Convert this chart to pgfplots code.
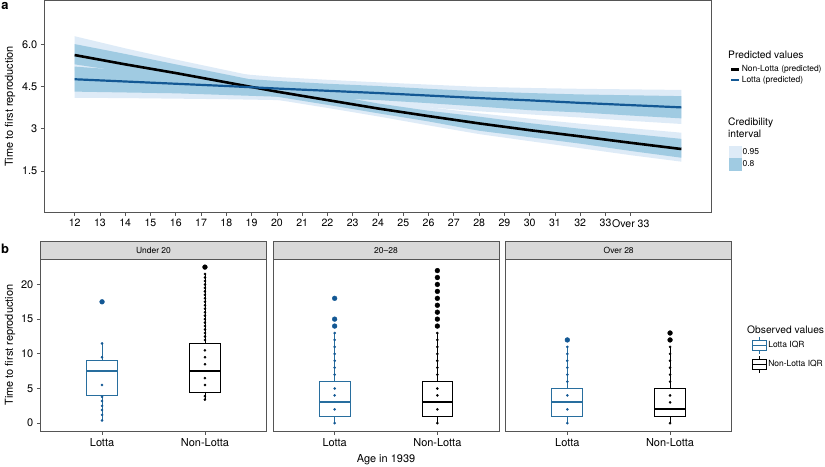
\documentclass[border=0pt]{standalone}
\usepackage{pgfplots}
\pgfplotsset{compat=1.18}
\usepgfplotslibrary{statistics}
\usepackage{fontspec}
\setmainfont{TeX Gyre Heros}

\definecolor{lottaline}{RGB}{19,88,148}
\definecolor{lottabox}{RGB}{40,110,158}
\definecolor{ciA}{RGB}{222,235,247}
\definecolor{ciB}{RGB}{160,203,226}
\definecolor{stripgray}{RGB}{217,217,217}
\definecolor{frame}{RGB}{85,85,85}

\newcommand\fbig{\fontsize{11}{13}\selectfont}
\newcommand\ftick{\fontsize{10.6}{12.5}\selectfont}
\newcommand\ftitle{\fontsize{10.3}{12.5}\selectfont}
\newcommand\fsmall{\fontsize{8.5}{10}\selectfont}

\pgfplotsset{
  gg/.style={
    scale only axis,
    anchor=south west,
    axis line style={frame, line width=0.7bp},
    tick align=outside,
    major tick length=3.5bp,
    tick style={frame, line width=0.7bp},
    tick pos=left,
    tick label style={font=\fbig, black},
    label style={font=\fbig},
    /pgf/number format/assume math mode=true,
    clip=false,
    legend cell align=left,
  },
  boxlegend/.style={legend image code/.code={
    \draw[#1, line width=0.9bp] (7bp,-8.5bp) -- (7bp,8.5bp);
    \draw[#1, line width=0.9bp, fill=white] (0bp,-5bp) rectangle (14bp,5bp);
    \draw[#1, line width=0.9bp] (0bp,0bp) -- (14bp,0bp);}},
  linelegend/.style={legend image code/.code={
    \draw[#1] (0bp,0bp) -- (8bp,0bp);}},
  swatch/.style={legend image code/.code={
    \fill[#1] (0bp,-5.75bp) rectangle (12bp,5.75bp);}},
  nldot/.style={only marks, mark=*, mark size=1.1bp, black},
  ldot/.style={only marks, mark=*, mark size=1.1bp, lottaline},
  nlout/.style={only marks, mark=*, mark size=2.4bp, black},
  lout/.style={only marks, mark=*, mark size=2.4bp, lottaline},
  bxbase/.style={line width=0.9bp, boxplot/draw direction=y, boxplot/box extend=0.3,
    boxplot/whisker extend=0, boxplot/every median/.style={line width=1.8bp}},
  lbox/.style={lottabox, bxbase},
  nlbox/.style={black, bxbase},
}

\begin{document}
\begin{tikzpicture}
\useasboundingbox (0,0) rectangle (825bp,467bp);

% ---------- panel a ----------
\begin{axis}[gg, name=top, at={(44.3bp,254.7bp)},
  width=667.4bp, height=211.8bp,
  xmin=10.8, xmax=37.2, ymin=0.03, ymax=7.56,
  xtick={12,...,34},
  xticklabels={12,13,14,15,16,17,18,19,20,21,22,23,24,25,26,27,28,29,30,31,32,33,Over 33},
  xticklabel style={font=\ftick},
  ytick={1.5,3,4.5,6}, yticklabels={1.5,3,4.5,6.0},
  ylabel={Time to first reproduction},
  ylabel style={at={(axis description cs:-0.0514,0.5)}, anchor=center},
  legend style={at={(1.0267,0.701)}, anchor=north west, draw=none, fill=none,
    font=\fsmall, inner sep=0pt, nodes={inner sep=1.5bp}},
]
% 0.95 bands
\addplot[draw=none, fill=ciA, forget plot] coordinates {
  (12,6.29) (14,5.86) (16,5.46) (18,5.08) (20,4.70) (22,4.33) (24,4.02)
  (26,3.77) (28,3.55) (30,3.36) (32,3.18) (34,3.02) (36,2.86)
  (36,1.83) (34,2.06) (32,2.31) (30,2.56) (28,2.81) (26,3.12) (24,3.44)
  (22,3.74) (20,4.03) (18,4.30) (16,4.58) (14,4.85) (12,5.07)} --cycle;
\addplot[draw=none, fill=ciA, forget plot] coordinates {
  (12,5.46) (14,5.30) (16,5.15) (18,4.99) (20,4.84) (22,4.74) (24,4.65)
  (26,4.57) (28,4.49) (30,4.45) (32,4.42) (34,4.40) (36,4.38)
  (36,3.17) (34,3.28) (32,3.40) (30,3.51) (28,3.62) (26,3.76) (24,3.88)
  (22,3.95) (20,4.02) (18,4.05) (16,4.07) (14,4.09) (12,4.10)} --cycle;
% 0.8 bands
\addplot[draw=none, fill=ciB, forget plot] coordinates {
  (12,6.01) (14,5.66) (16,5.29) (18,4.93) (20,4.56) (22,4.22) (24,3.90)
  (26,3.64) (28,3.43) (30,3.20) (32,3.00) (34,2.82) (36,2.64)
  (36,1.97) (34,2.21) (32,2.47) (30,2.70) (28,2.93) (26,3.26) (24,3.55)
  (22,3.85) (20,4.14) (18,4.45) (16,4.73) (14,5.02) (12,5.29)} --cycle;
\addplot[draw=none, fill=ciB, forget plot] coordinates {
  (12,5.21) (14,5.08) (16,4.95) (18,4.82) (20,4.70) (22,4.60) (24,4.52)
  (26,4.42) (28,4.33) (30,4.27) (32,4.22) (34,4.19) (36,4.16)
  (36,3.37) (34,3.47) (32,3.58) (30,3.66) (28,3.79) (26,3.91) (24,4.02)
  (22,4.08) (20,4.14) (18,4.20) (16,4.26) (14,4.29) (12,4.32)} --cycle;
% predicted lines
\addplot[black, line width=2.6bp, forget plot] coordinates {
  (12,5.62) (14,5.29) (16,4.98) (18,4.65) (20,4.32) (22,4.02) (24,3.72)
  (26,3.45) (28,3.19) (30,2.95) (32,2.73) (34,2.50) (36,2.28)};
\addplot[lottaline, line width=2.2bp, forget plot] coordinates {
  (12,4.76) (14,4.68) (16,4.60) (18,4.52) (20,4.43) (22,4.35) (24,4.27)
  (26,4.18) (28,4.09) (30,4.01) (32,3.92) (34,3.84) (36,3.76)};
\addlegendimage{linelegend, black, line width=2.6bp}
\addlegendentry{Non-Lotta (predicted)}
\addlegendimage{linelegend, lottaline, line width=2.6bp}
\addlegendentry{Lotta (predicted)}
\end{axis}

% credibility legend carrier
\begin{axis}[hide axis, scale only axis, anchor=south west, at={(44.3bp,254.7bp)},
  width=667.4bp, height=211.8bp, xmin=0, xmax=1, ymin=0, ymax=1,
  legend cell align=left,
  legend style={at={(1.0252,0.313)}, anchor=north west, draw=none, fill=none,
    font=\fsmall, inner sep=0pt, row sep=0pt, nodes={inner sep=1.5bp}},
]
\addlegendimage{swatch, ciA}
\addlegendentry{0.95}
\addlegendimage{swatch, ciB}
\addlegendentry{0.8}
\end{axis}

% ---------- panel b ----------
\begin{axis}[gg, name=p1, at={(40.3bp,36bp)}, width=226.4bp, height=171.7bp,
  xmin=0.4, xmax=2.6, ymin=-1.125, ymax=23.625,
  xtick={1,2}, xticklabels={Lotta,Non-Lotta},
  ytick={0,5,10,15,20},
  ylabel={Time to first reproduction},
  ylabel style={at={(axis description cs:-0.134,0.5)}, anchor=center},
]
\addplot[lbox, boxplot prepared={draw position=1, lower whisker=0.4,
  lower quartile=4, median=7.5, upper quartile=9, upper whisker=11.5}] coordinates {};
\addplot[ldot] coordinates {(1,0.4) (1,1.2) (1,1.9) (1,2.5) (1,3.2) (1,3.8)
  (1,5.5) (1,9.5) (1,11.5)};
\addplot[lout] coordinates {(1,17.5)};
\addplot[nlbox, boxplot prepared={draw position=2, lower whisker=3.4,
  lower quartile=4.5, median=7.5, upper quartile=11.5, upper whisker=21.5}] coordinates {};
\addplot[nldot] coordinates {(2,3.4) (2,3.9) (2,5.5) (2,6.5) (2,8.5) (2,9.5)
  (2,10.5) (2,12) (2,12.5) (2,13) (2,13.5) (2,14) (2,14.5) (2,15) (2,15.5)
  (2,16) (2,16.5) (2,17) (2,17.5) (2,18) (2,18.5) (2,19) (2,19.5) (2,20)
  (2,20.5) (2,21) (2,21.5)};
\addplot[nlout] coordinates {(2,22.5)};
\end{axis}

\begin{axis}[gg, name=p2, at={(273.0bp,36bp)}, width=226.0bp, height=171.7bp,
  xmin=0.4, xmax=2.6, ymin=-1.125, ymax=23.625,
  xtick={1,2}, xticklabels={Lotta,Non-Lotta},
  ytick=\empty,
  xlabel={Age in 1939},
  xlabel style={at={(axis description cs:0.5,-0.169)}, anchor=center},
]
\addplot[lbox, boxplot prepared={draw position=1, lower whisker=0,
  lower quartile=1, median=3, upper quartile=6, upper whisker=13}] coordinates {};
\addplot[ldot] coordinates {(1,0) (1,2) (1,4) (1,5) (1,7) (1,8) (1,9) (1,10)
  (1,11) (1,12) (1,13)};
\addplot[lout] coordinates {(1,14) (1,15) (1,18)};
\addplot[nlbox, boxplot prepared={draw position=2, lower whisker=0,
  lower quartile=1, median=3, upper quartile=6, upper whisker=13}] coordinates {};
\addplot[nldot] coordinates {(2,0) (2,2) (2,4) (2,5) (2,7) (2,8) (2,9) (2,10)
  (2,11) (2,12) (2,13)};
\addplot[nlout] coordinates {(2,14) (2,15) (2,16) (2,17) (2,18) (2,19) (2,20)
  (2,21) (2,22)};
\end{axis}

\begin{axis}[gg, name=p3, at={(505.7bp,36bp)}, width=226.0bp, height=171.7bp,
  xmin=0.4, xmax=2.6, ymin=-1.125, ymax=23.625,
  xtick={1,2}, xticklabels={Lotta,Non-Lotta},
  ytick=\empty,
  legend style={at={(1.0885,0.553)}, anchor=north west, draw=none, fill=none,
    font=\fsmall, inner sep=0pt, row sep=1bp, nodes={inner sep=1.5bp}},
]
\addplot[lbox, boxplot prepared={draw position=1, lower whisker=0,
  lower quartile=1, median=3, upper quartile=5, upper whisker=11}, forget plot] coordinates {};
\addplot[ldot, forget plot] coordinates {(1,0) (1,2) (1,4) (1,6) (1,7) (1,8) (1,9)
  (1,10) (1,11)};
\addplot[lout, forget plot] coordinates {(1,12)};
\addplot[nlbox, boxplot prepared={draw position=2, lower whisker=0,
  lower quartile=1, median=2, upper quartile=5, upper whisker=11}, forget plot] coordinates {};
\addplot[nldot, forget plot] coordinates {(2,0) (2,3) (2,4) (2,6) (2,7) (2,8) (2,9)
  (2,10) (2,11)};
\addplot[nlout, forget plot] coordinates {(2,12) (2,13)};
\addlegendimage{boxlegend=lottabox}
\addlegendentry{Lotta IQR}
\addlegendimage{boxlegend=black}
\addlegendentry{Non-Lotta IQR}
\end{axis}

% facet strips
\foreach \p/\t in {p1/Under 20, p2/20--28, p3/Over 28}{
  \draw[fill=stripgray, draw=frame, line width=0.7bp]
    (\p.north west) rectangle ([yshift=17.6bp]\p.north east);
  \node[font=\fsmall] at ([yshift=8.8bp]\p.north) {\t};
}

% legend titles and panel letters
\node[font=\ftitle, anchor=west, inner sep=0] at (728bp,412bp) {Predicted values};
\node[font=\ftitle, anchor=west, inner sep=0, align=left] at (728bp,339bp) {Credibility\\interval};
\node[font=\ftitle, anchor=west, inner sep=0] at (747bp,137bp) {Observed values};
\node[font=\bfseries\fontsize{13}{14}\selectfont, inner sep=0] at (5bp,460.5bp) {a};
\node[font=\bfseries\fontsize{13}{14}\selectfont, inner sep=0] at (5bp,218bp) {b};
\end{tikzpicture}
\end{document}
